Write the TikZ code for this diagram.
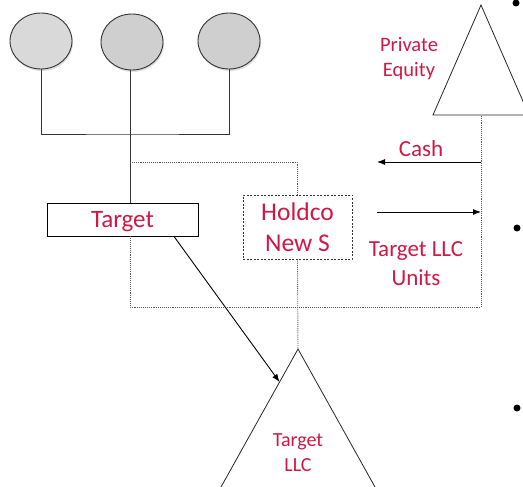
\documentclass[tikz,border=0pt]{standalone}
\usepackage{fontspec}
\setmainfont{Carlito}
\usetikzlibrary{arrows.meta,shadows,calc,shapes.geometric}
\definecolor{labelred}{RGB}{206,24,70}
\definecolor{ballgrey}{RGB}{207,207,207}
\definecolor{ballgreylight}{RGB}{217,217,217}
\tikzset{
  ball/.style={ellipse, draw=black!80, line width=0.9pt, fill=ballgrey,
    minimum width=62pt, minimum height=56pt, inner sep=0pt,
    drop shadow={opacity=0.25, shadow xshift=1pt, shadow yshift=-2pt}},
  entity/.style={rectangle, draw=black, line width=0.9pt, fill=white,
    text=labelred, inner sep=0pt, align=center},
  lbl/.style={text=labelred, align=center, inner sep=0pt},
  solidlink/.style={draw=black!80, line width=0.9pt},
  dotlink/.style={draw=black!65, line width=0.9pt, densely dotted},
  flow/.style={draw=black, line width=0.9pt, -{Latex[length=8pt,width=6pt]}},
  tri/.style={draw=black!85, line width=0.8pt, fill=white},
}
\begin{document}
\begin{tikzpicture}[x=1pt,y=1pt]
\useasboundingbox (0,0) rectangle (523,-487);
\clip (0,0) rectangle (523,-487);

% shareholders
\node[ball, fill=ballgreylight] (c1) at (41,-41) {};
\node[ball] (c2) at (132,-42) {};
\node[ball] (c3) at (229,-41) {};

% private equity fund
\coordinate (peapex) at (481,-5);
\coordinate (pebase) at (481,-115);
\draw[tri] (peapex) -- (433,-115) -- (529,-115) -- cycle;
\node[lbl, font=\fontsize{20.5}{25}\selectfont] (pe) at (409,-59) {Private\\Equity};

% target LLC
\coordinate (llcapex) at (298,-349);
\draw[tri] (llcapex) -- ($(llcapex)+(-154,-276)$) -- ($(llcapex)+(154,-276)$) -- cycle;
\node[lbl, font=\fontsize{20}{25}\selectfont] (llc) at (298,-453) {Target\\LLC};

% entities
\node[entity, minimum width=151pt, minimum height=33pt, text depth=0pt,
  font=\fontsize{25}{30}\selectfont] (target) at (122.5,-219.5) {Target};
\node[entity, dashed, dash pattern=on 2pt off 1.5pt, draw=black!80,
  minimum width=109pt, minimum height=64pt,
  font=\fontsize{25.5}{31}\selectfont] (holdco) at (297.5,-227) {Holdco\\New S};

% ownership lines
\coordinate (bar) at (130,-134);
\draw[solidlink] (c1.south) |- (bar) -| (c3.south);
\draw[solidlink] (c2.south -| bar) -- (target.north -| bar);
\coordinate (split) at (130,-162);
\draw[dotlink] (split) -| (holdco.north);
\draw[dotlink] (holdco.south) -- (llcapex);
\coordinate (loop) at (481,-307);
\draw[dotlink] (target.south -| bar) |- (loop) -- (pebase);

% merger arrow
\coordinate (hit) at ($(llcapex)!0.1196!(144,-625)$);
\draw[flow] ([xshift=51.5pt]target.south) -- (hit);

% exchange
\coordinate (cashR) at (481,-162);
\coordinate (cashL) at (377,-162);
\coordinate (unitL) at (377,-212);
\coordinate (unitR) at (481,-212);
\draw[flow] (cashR) -- (cashL);
\draw[flow] (unitL) -- (unitR);
\node[lbl, font=\fontsize{23}{28}\selectfont] (cash) at (421,-149) {Cash};
\node[lbl, font=\fontsize{23}{29}\selectfont] (units) at (416,-264) {Target LLC\\Units};

% slide bullets
\fill (516,-3) circle (3.5pt);
\fill (517,-228) circle (3.5pt);
\fill (517,-408) circle (3.5pt);
\end{tikzpicture}
\end{document}
